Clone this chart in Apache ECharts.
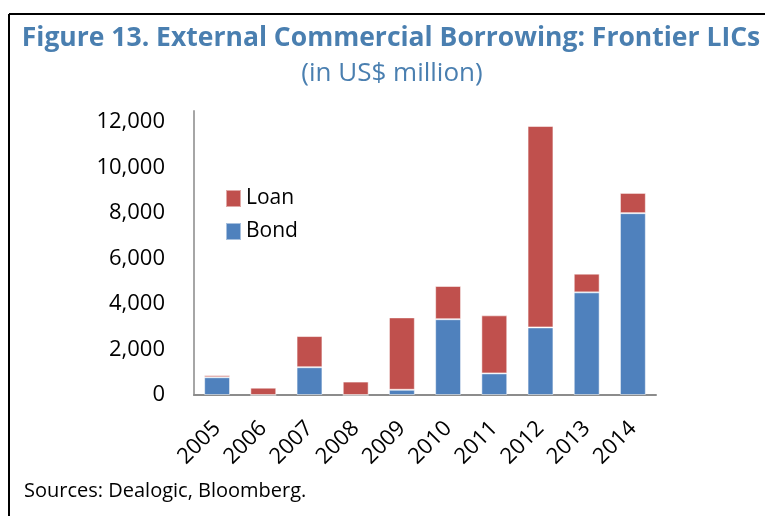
<!DOCTYPE html>
<html>
<head>
<meta charset="utf-8">
<script src="https://cdn.jsdelivr.net/npm/echarts@6/dist/echarts.min.js"></script>
<style>
  html, body { margin: 0; padding: 0; background: #fff; }
  #chart { width: 765px; height: 516px; }
</style>
</head>
<body>
<div id="chart"></div>
<script>
// External commercial borrowing by frontier low-income countries, US$ million
const years = ['2005', '2006', '2007', '2008', '2009', '2010', '2011', '2012', '2013', '2014'];
const bond = [780, 0, 1220, 0, 230, 3330, 950, 2970, 4510, 7990];
const loan = [90, 320, 1370, 590, 3180, 1460, 2550, 8850, 820, 890];
const yTicks = [0, 2000, 4000, 6000, 8000, 10000, 12000];

const BLUE = '#4f81bd';
const RED = '#c0504d';
const TITLE_BLUE = '#4a7fb0';
const FONT = '"Open Sans", "Noto Sans", sans-serif';

const chart = echarts.init(document.getElementById('chart'), null, { renderer: 'canvas' });

chart.setOption({
  animation: false,
  backgroundColor: '#ffffff',
  textStyle: { fontFamily: FONT },
  graphic: [
    // frame lines along the top and left edges
    { type: 'line', shape: { x1: 9, y1: 14, x2: 765, y2: 14 }, style: { stroke: '#000', lineWidth: 2 } },
    { type: 'line', shape: { x1: 9, y1: 14, x2: 9, y2: 516 }, style: { stroke: '#000', lineWidth: 2 } },
    {
      type: 'text', x: 391, y: 38,
      style: { text: 'Figure 13. External Commercial Borrowing: Frontier LICs', fill: TITLE_BLUE,
               font: 'bold 26.5px ' + FONT, align: 'center', verticalAlign: 'middle' }
    },
    {
      type: 'text', x: 392, y: 74,
      style: { text: '(in US$ million)', fill: TITLE_BLUE, font: '26px ' + FONT,
               align: 'center', verticalAlign: 'middle' }
    },
    {
      type: 'text', x: 24, y: 491,
      style: { text: 'Sources: Dealogic, Bloomberg.', fill: '#000', font: '20px ' + FONT,
               verticalAlign: 'middle' }
    }
  ],
  legend: {
    data: ['Loan', 'Bond'],
    orient: 'vertical',
    left: 220,
    top: 183,
    itemWidth: 15,
    itemHeight: 17,
    itemGap: 12,
    icon: 'rect',
    textStyle: { fontSize: 21, color: '#000', fontFamily: FONT }
  },
  grid: { left: 194, right: 109, top: 111, bottom: 121, containLabel: false },
  xAxis: {
    type: 'category',
    data: years,
    axisLine: { lineStyle: { color: '#8c8c8c', width: 2 } },
    axisTick: { show: false },
    axisLabel: { rotate: 45, fontSize: 22, color: '#000', margin: 30, fontFamily: FONT }
  },
  yAxis: {
    type: 'value',
    min: 0,
    max: 12480,
    interval: 2000,
    axisLine: { show: true, lineStyle: { color: '#a6a6a6', width: 2 } },
    axisTick: { show: false },
    splitLine: { show: false },
    axisLabel: {
      fontSize: 22, color: '#000', margin: 29, fontFamily: FONT,
      showMaxLabel: false,
      formatter: v => yTicks.includes(v) ? v.toLocaleString('en-US') : ''
    }
  },
  series: [
    {
      name: 'Bond', type: 'bar', stack: 'total', data: bond,
      barCategoryGap: '44%',
      itemStyle: { color: BLUE, borderColor: 'rgba(255,255,255,0.5)', borderWidth: 1 }
    },
    {
      name: 'Loan', type: 'bar', stack: 'total', data: loan,
      itemStyle: { color: RED, borderColor: 'rgba(255,255,255,0.5)', borderWidth: 1 }
    }
  ]
});
</script>
</body>
</html>
